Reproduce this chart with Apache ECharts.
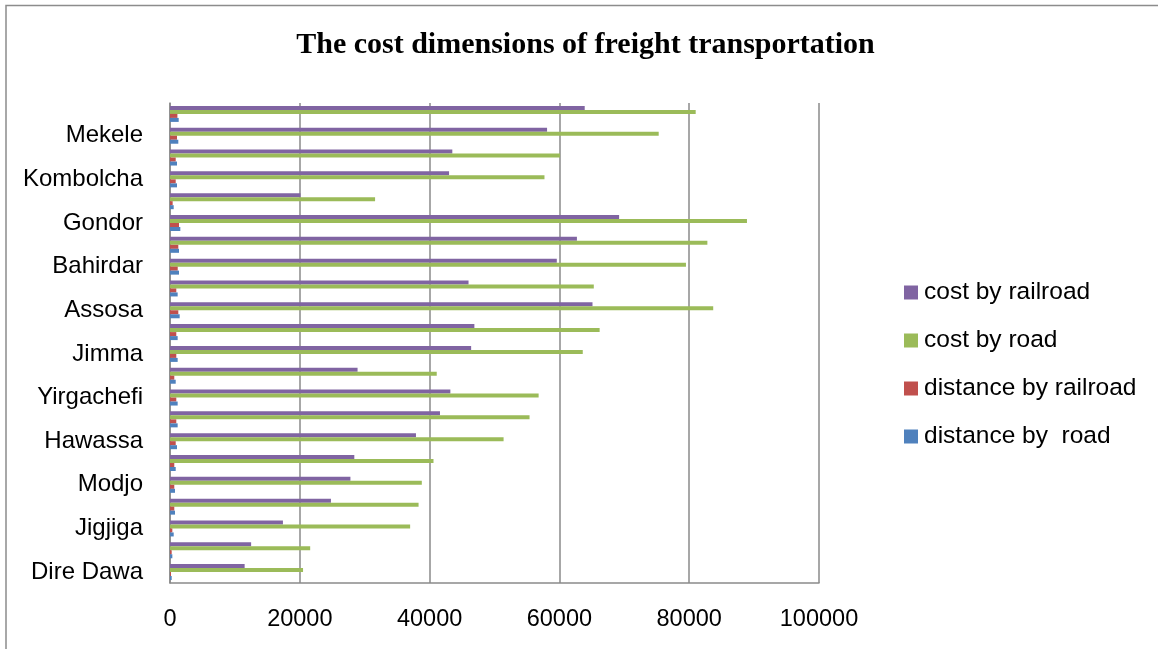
<!DOCTYPE html>
<html>
<head>
<meta charset="utf-8">
<title>The cost dimensions of freight transportation</title>
<script src="https://cdn.jsdelivr.net/npm/echarts@6/dist/echarts.min.js"></script>
<style>
  html, body { margin: 0; padding: 0; background: #fff; }
  #chart { width: 1158px; height: 649px; }
</style>
</head>
<body>
<div id="chart"></div>
<script>
// Destinations, listed bottom to top; only every other one carries a label.
const destinations = [
  'Dire Dawa', 'Harar', 'Jigjiga', 'Adama', 'Modjo', 'Shashemene',
  'Hawassa', 'Dilla', 'Yirgachefi', 'Bonga', 'Jimma', 'Nekemte',
  'Assosa', 'Debre Markos', 'Bahirdar', 'Debre Tabor', 'Gondor', 'Dessie',
  'Kombolcha', 'Woldia', 'Mekele', 'Adigrat'
];

const costByRailroad = [
  11500, 12500, 17400, 24800, 27800, 28400,
  37900, 41600, 43200, 28900, 46400, 46900,
  65100, 46000, 59600, 62700, 69200, 20100,
  43000, 43500, 58100, 63900
];

const costByRoad = [
  20500, 21600, 37000, 38300, 38800, 40600,
  51400, 55400, 56800, 41100, 63600, 66200,
  83700, 65300, 79500, 82800, 88900, 31600,
  57700, 60100, 75300, 81000
];

const distanceByRailroad = [
  150, 260, 360, 660, 660, 660,
  880, 970, 970, 660, 970, 970,
  1280, 970, 1190, 1280, 1390, 410,
  880, 880, 1080, 1140
];

const distanceByRoad = [
  260, 360, 570, 770, 770, 880,
  1080, 1180, 1180, 880, 1180, 1180,
  1490, 1180, 1390, 1390, 1590, 570,
  1080, 1080, 1280, 1340
];

const xTicks = { min: 0, max: 100000, step: 20000 };

const gridGray = '#8a8a8a';
const labelFont = 'Liberation Sans';

const chart = echarts.init(document.getElementById('chart'), null, { renderer: 'canvas' });

function barSeries(name, values, color) {
  return {
    name: name,
    type: 'bar',
    data: values,
    barWidth: 4,
    barGap: '0%',
    itemStyle: { color: color },
    emphasis: { disabled: true },
    animation: false
  };
}

chart.setOption({
  backgroundColor: '#ffffff',
  animation: false,
  graphic: [
    {
      type: 'rect',
      silent: true,
      z: -10,
      shape: { x: 6, y: 5.5, width: 1300, height: 800 },
      style: { fill: 'none', stroke: '#8c8c8c', lineWidth: 1.5 }
    },
    {
      type: 'text',
      silent: true,
      x: 585.5,
      y: 45,
      style: {
        text: 'The cost dimensions of freight transportation',
        font: 'bold 30px "Liberation Serif"',
        fill: '#000',
        textAlign: 'center',
        textVerticalAlign: 'middle'
      }
    }
  ],
  legend: {
    orient: 'vertical',
    left: 899,
    top: 275,
    itemWidth: 14,
    itemHeight: 14,
    itemGap: 23,
    icon: 'rect',
    selectedMode: false,
    data: ['cost by railroad', 'cost by road', 'distance by railroad', 'distance by  road'],
    textStyle: {
      fontFamily: labelFont,
      fontSize: 24.5,
      lineHeight: 24,
      color: '#000',
      padding: [0, 0, 0, 1]
    }
  },
  grid: {
    left: 170,
    right: 339,
    top: 103,
    bottom: 66,
    containLabel: false
  },
  xAxis: {
    type: 'value',
    min: xTicks.min,
    max: xTicks.max,
    interval: xTicks.step,
    axisLine: { show: true, lineStyle: { color: gridGray, width: 1.5 } },
    axisTick: { show: false },
    axisLabel: {
      fontFamily: labelFont,
      fontSize: 23.5,
      color: '#000',
      margin: 25,
      formatter: function (v) { return String(v); }
    },
    splitLine: { show: true, lineStyle: { color: gridGray, width: 1.5 } }
  },
  yAxis: {
    type: 'category',
    data: destinations,
    axisLine: { show: true, lineStyle: { color: gridGray, width: 1.5 } },
    axisTick: { show: false },
    axisLabel: {
      interval: 1,
      fontFamily: labelFont,
      fontSize: 24,
      color: '#000',
      margin: 27,
      padding: [4, 0, 0, 0]
    },
    splitLine: { show: false }
  },
  series: [
    barSeries('cost by railroad', costByRailroad, '#8064A2'),
    barSeries('cost by road', costByRoad, '#9BBB59'),
    barSeries('distance by railroad', distanceByRailroad, '#C0504D'),
    barSeries('distance by  road', distanceByRoad, '#4F81BD')
  ]
});
</script>
</body>
</html>
